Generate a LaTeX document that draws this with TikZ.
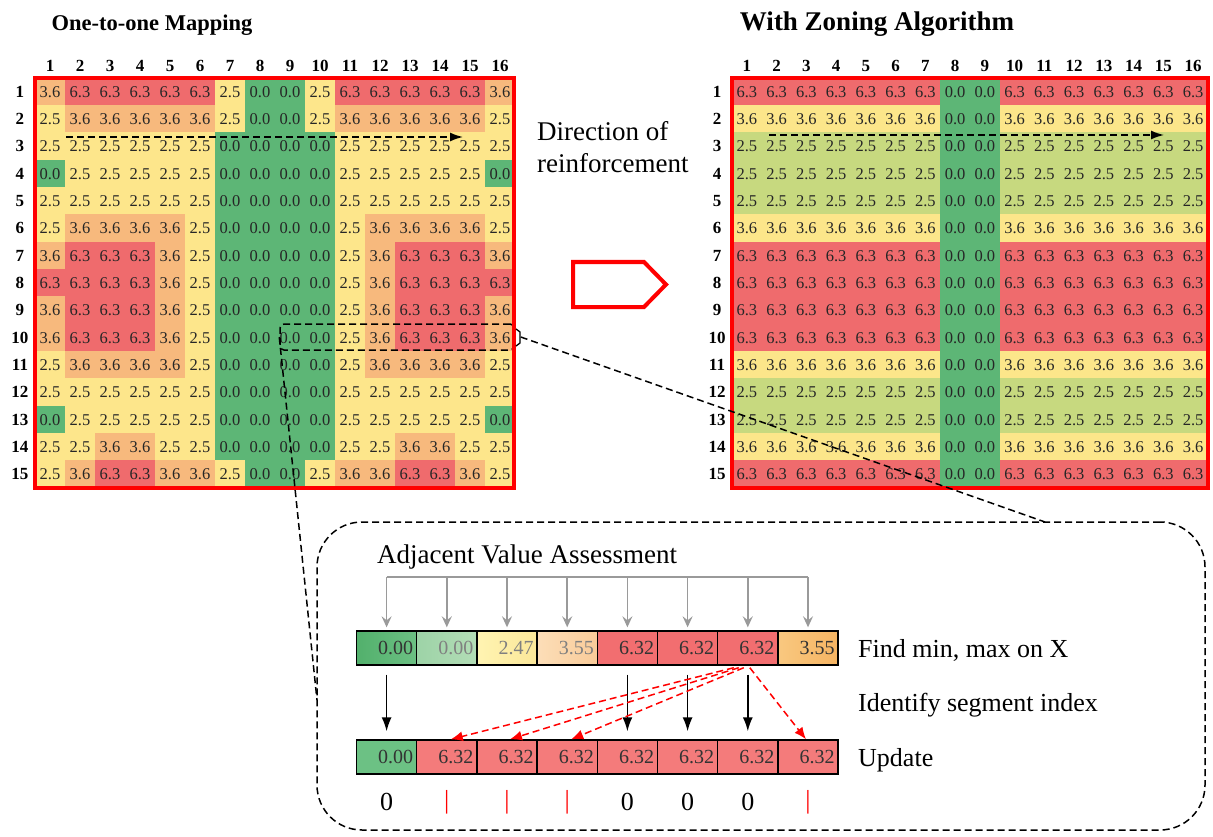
\documentclass[tikz,border=0pt]{standalone}
\usepackage{fontspec}
\setmainfont{Liberation Serif}
\usetikzlibrary{arrows.meta}
\definecolor{Lred}{HTML}{EF6B6D}
\definecolor{Lorange}{HTML}{F7B97D}
\definecolor{Lyellow}{HTML}{FDE68B}
\definecolor{Lgreen}{HTML}{5DB676}
\definecolor{Rred}{HTML}{EF6B6D}
\definecolor{Ryellow}{HTML}{FCE68A}
\definecolor{Rlime}{HTML}{C7D97F}
\definecolor{Rgreen}{HTML}{5DB676}
\definecolor{Ta}{HTML}{52B06C}\definecolor{Tb}{HTML}{6CC083}
\definecolor{Tc}{HTML}{9DD3A7}\definecolor{Td}{HTML}{B3DDB6}
\definecolor{Te}{HTML}{FFF4B2}\definecolor{Tf}{HTML}{FBE799}
\definecolor{Tg}{HTML}{FCDEB8}\definecolor{Th}{HTML}{F9CB99}
\definecolor{Ti}{HTML}{F26E70}\definecolor{Tj}{HTML}{F26E70}
\definecolor{Tk}{HTML}{F9C880}\definecolor{Tl}{HTML}{F6B462}
\definecolor{Bgreen}{HTML}{6CC184}
\definecolor{Bred}{HTML}{F47B7B}
\definecolor{txdark}{HTML}{333333}
\definecolor{txgray}{HTML}{808080}
\definecolor{arrgray}{HTML}{9A9A9A}
\newcommand\cellfnt{\fontsize{16.5}{16.5}\selectfont}
\newcommand\hdrfnt{\bfseries\fontsize{17}{17}\selectfont}
\newcommand\labfnt{\fontsize{26}{32}\selectfont}
\newcommand\bcfnt{\fontsize{20}{20}\selectfont}
\begin{document}
\begin{tikzpicture}[x=1pt,y=-1pt,
  lcell/.style={minimum width=30.4, minimum height=27.8, inner sep=0, font=\cellfnt, text=black!85},
  rcell/.style={minimum width=30.2, minimum height=27.8, inner sep=0, font=\cellfnt, text=black!85},
  hdr/.style={font=\hdrfnt, inner sep=0},
  frame/.style={draw=red, line width=3.5},
  dsh/.style={dash pattern=on 7pt off 4pt, line width=1.5},
  dirarr/.style={dsh, -{Latex[length=13pt,width=9pt]}},
  bcell/.style={draw=black, line width=1.4, minimum height=34, text width=53.2, inner xsep=3.5, inner ysep=0, align=right, font=\bcfnt},
  garr/.style={draw=arrgray, line width=1.6, -{Stealth[length=11pt,width=10pt,inset=4pt]}},
  gline/.style={draw=arrgray, line width=1.6},
  barr/.style={draw=black, line width=1.5, -{Latex[length=14pt,width=10pt]}},
  rarr/.style={draw=red, dash pattern=on 7pt off 4pt, line width=1.5, -{Latex[length=12pt,width=10pt]}},
  lab/.style={font=\labfnt, inner sep=0},
  ttl/.style={font=\bfseries\fontsize{22.5}{24}\selectfont, inner sep=0},
  ttlb/.style={font=\bfseries\fontsize{27}{30}\selectfont, inner sep=0}
]
\useasboundingbox (0,0) rectangle (1213,837);

% titles
\node[ttl, anchor=base] (t1) at (152,31) {One-to-one Mapping};
\node[ttlb, anchor=base] (t2) at (877,31) {With Zoning Algorithm};

% left grid
\foreach \rl [count=\r] in {
 {3.6,6.3,6.3,6.3,6.3,6.3,2.5,0.0,0.0,2.5,6.3,6.3,6.3,6.3,6.3,3.6},
 {2.5,3.6,3.6,3.6,3.6,3.6,2.5,0.0,0.0,2.5,3.6,3.6,3.6,3.6,3.6,2.5},
 {2.5,2.5,2.5,2.5,2.5,2.5,0.0,0.0,0.0,0.0,2.5,2.5,2.5,2.5,2.5,2.5},
 {0.0,2.5,2.5,2.5,2.5,2.5,0.0,0.0,0.0,0.0,2.5,2.5,2.5,2.5,2.5,0.0},
 {2.5,2.5,2.5,2.5,2.5,2.5,0.0,0.0,0.0,0.0,2.5,2.5,2.5,2.5,2.5,2.5},
 {2.5,3.6,3.6,3.6,3.6,2.5,0.0,0.0,0.0,0.0,2.5,3.6,3.6,3.6,3.6,2.5},
 {3.6,6.3,6.3,6.3,3.6,2.5,0.0,0.0,0.0,0.0,2.5,3.6,6.3,6.3,6.3,3.6},
 {6.3,6.3,6.3,6.3,3.6,2.5,0.0,0.0,0.0,0.0,2.5,3.6,6.3,6.3,6.3,6.3},
 {3.6,6.3,6.3,6.3,3.6,2.5,0.0,0.0,0.0,0.0,2.5,3.6,6.3,6.3,6.3,3.6},
 {3.6,6.3,6.3,6.3,3.6,2.5,0.0,0.0,0.0,0.0,2.5,3.6,6.3,6.3,6.3,3.6},
 {2.5,3.6,3.6,3.6,3.6,2.5,0.0,0.0,0.0,0.0,2.5,3.6,3.6,3.6,3.6,2.5},
 {2.5,2.5,2.5,2.5,2.5,2.5,0.0,0.0,0.0,0.0,2.5,2.5,2.5,2.5,2.5,2.5},
 {0.0,2.5,2.5,2.5,2.5,2.5,0.0,0.0,0.0,0.0,2.5,2.5,2.5,2.5,2.5,0.0},
 {2.5,2.5,3.6,3.6,2.5,2.5,0.0,0.0,0.0,0.0,2.5,2.5,3.6,3.6,2.5,2.5},
 {2.5,3.6,6.3,6.3,3.6,3.6,2.5,0.0,0.0,2.5,3.6,3.6,6.3,6.3,3.6,2.5}}{
  \foreach \v [count=\c] in \rl {
    \ifdim\v pt>5pt \def\cc{Lred}\else\ifdim\v pt>3pt \def\cc{Lorange}\else\ifdim\v pt>1pt \def\cc{Lyellow}\else\def\cc{Lgreen}\fi\fi\fi
    \node[lcell, fill=\cc] (L-\r-\c) at ({35+30*(\c-0.5)},{78+27.333*(\r-0.5)}) {\v};
  }
}

% right grid
\foreach \t [count=\r] in {6.3,3.6,2.5,2.5,2.5,3.6,6.3,6.3,6.3,6.3,3.6,2.5,2.5,3.6,6.3}{
  \foreach \c in {1,...,16}{
    \ifnum\c=8 \def\v{0.0}\else\ifnum\c=9 \def\v{0.0}\else\let\v\t\fi\fi
    \ifdim\v pt>5pt \def\cc{Rred}\else\ifdim\v pt>3pt \def\cc{Ryellow}\else\ifdim\v pt>1pt \def\cc{Rlime}\else\def\cc{Rgreen}\fi\fi\fi
    \node[rcell, fill=\cc] (R-\r-\c) at ({732+29.75*(\c-0.5)},{78+27.333*(\r-0.5)}) {\v};
  }
}

% headers
\foreach \c in {1,...,16}{
  \node[hdr] (LH\c) at ({35+30*(\c-0.5)},66) {\c};
  \node[hdr] (RH\c) at ({732+29.75*(\c-0.5)},66) {\c};
}
\foreach \r in {1,...,15}{
  \node[hdr] (LV\r) at (20,{78+27.333*(\r-0.5)}) {\r};
  \node[hdr] (RV\r) at (717,{78+27.333*(\r-0.5)}) {\r};
}

% selection box on row 10
\node[draw=black, dsh, rounded corners=4, minimum width=234, minimum height=26, inner sep=0] (sel) at (397,337) {};

% frames
\draw[frame] (35,78) rectangle (514,488);
\draw[frame] (732,78) rectangle (1208,488);

% direction arrows
\coordinate (d1s) at (66,137);
\coordinate (d1e) at (463,137);
\coordinate (d2s) at (769,135);
\coordinate (d2e) at (1164,135);
\draw[dirarr] (d1s) -- (d1e);
\draw[dirarr] (d2s) -- (d2e);

\node[lab, anchor=north west, align=left, font=\fontsize{27}{32}\selectfont] (dir) at (537,121.5) {Direction of\\reinforcement};

% big red arrow
\draw[red, line width=4, line join=miter] (573,262) -- (644,262) -- (666,284.5) -- (644,307) -- (573,307) -- cycle;

% zoom box
\node[draw=black, dsh, rounded corners=45, minimum width=888, minimum height=308, inner sep=0] (zbox) at (761,676) {};
\coordinate (zl) at (317,700);
\coordinate (zr) at (1045,522);
\draw[dsh] (sel.west) -- (zl);
\draw[line width=1.3] (516,329) -- (520,332) -- (520,343) -- (516,346);
\draw[dsh] ([xshift=6pt]sel.east) -- (zr);

% label
\node[lab, anchor=base west, font=\fontsize{27}{32}\selectfont] (adj) at (377,563) {Adjacent Value Assessment};

% top row cells
\foreach \val/\lc/\rc/\tc [count=\k] in {0.00/Ta/Tb/txdark, 0.00/Tc/Td/txgray, 2.47/Te/Tf/txgray, 3.55/Tg/Th/txgray, 6.32/Ti/Tj/txdark, 6.32/Ti/Tj/txdark, 6.32/Ti/Tj/txdark, 3.55/Tk/Tl/txdark}{
  \node[bcell, left color=\lc, right color=\rc, text=\tc] (T\k) at ({356.5+60.2*(\k-0.5)},648) {\val};
}
% bottom row cells
\foreach \val/\fc [count=\k] in {0.00/Bgreen, 6.32/Bred, 6.32/Bred, 6.32/Bred, 6.32/Bred, 6.32/Bred, 6.32/Bred, 6.32/Bred}{
  \node[bcell, fill=\fc, text=txdark] (B\k) at ({356.5+60.2*(\k-0.5)},757) {\val};
}

% gray assessment arrows
\coordinate (gbar) at (0,577);
\draw[gline] (T1.north |- gbar) -- (T8.north |- gbar);
\foreach \k in {1,...,8}{
  \draw[garr, shorten >=3pt] (T\k.north |- gbar) -- (T\k.north);
}

% black arrows
\foreach \k in {1,5,6,7}{
  \draw[barr, shorten <=9pt, shorten >=8pt] (T\k.south) -- (B\k.north);
}

% red dashed arrows
\draw[rarr] ([xshift=-14pt,yshift=-2pt]T7.south) -- ([xshift=4pt]B2.north);
\draw[rarr] ([xshift=-9pt,yshift=-2pt]T7.south) -- ([xshift=3pt]B3.north);
\draw[rarr] ([xshift=-4pt,yshift=-2pt]T7.south) -- ([xshift=4pt]B4.north);
\draw[rarr] ([xshift=2pt,yshift=-2pt]T7.south) -- ([xshift=-2pt]B8.north);

% right labels
\node[lab, anchor=base west] (l1) at (858,657) {Find min, max on X};
\node[lab, anchor=base west] (l2) at (858,711) {Identify segment index};
\node[lab, anchor=base west] (l3) at (858,766) {Update};

% segment index marks
\coordinate (nrow) at (0,802);
\foreach \k in {1,5,6,7}{
  \node[lab] (n\k) at (B\k |- nrow) {0};
}
\foreach \k in {2,3,4,8}{
  \node[lab, text=red, font=\fontsize{26}{26}\selectfont] (n\k) at (B\k |- nrow) {|};
}
\end{tikzpicture}
\end{document}
